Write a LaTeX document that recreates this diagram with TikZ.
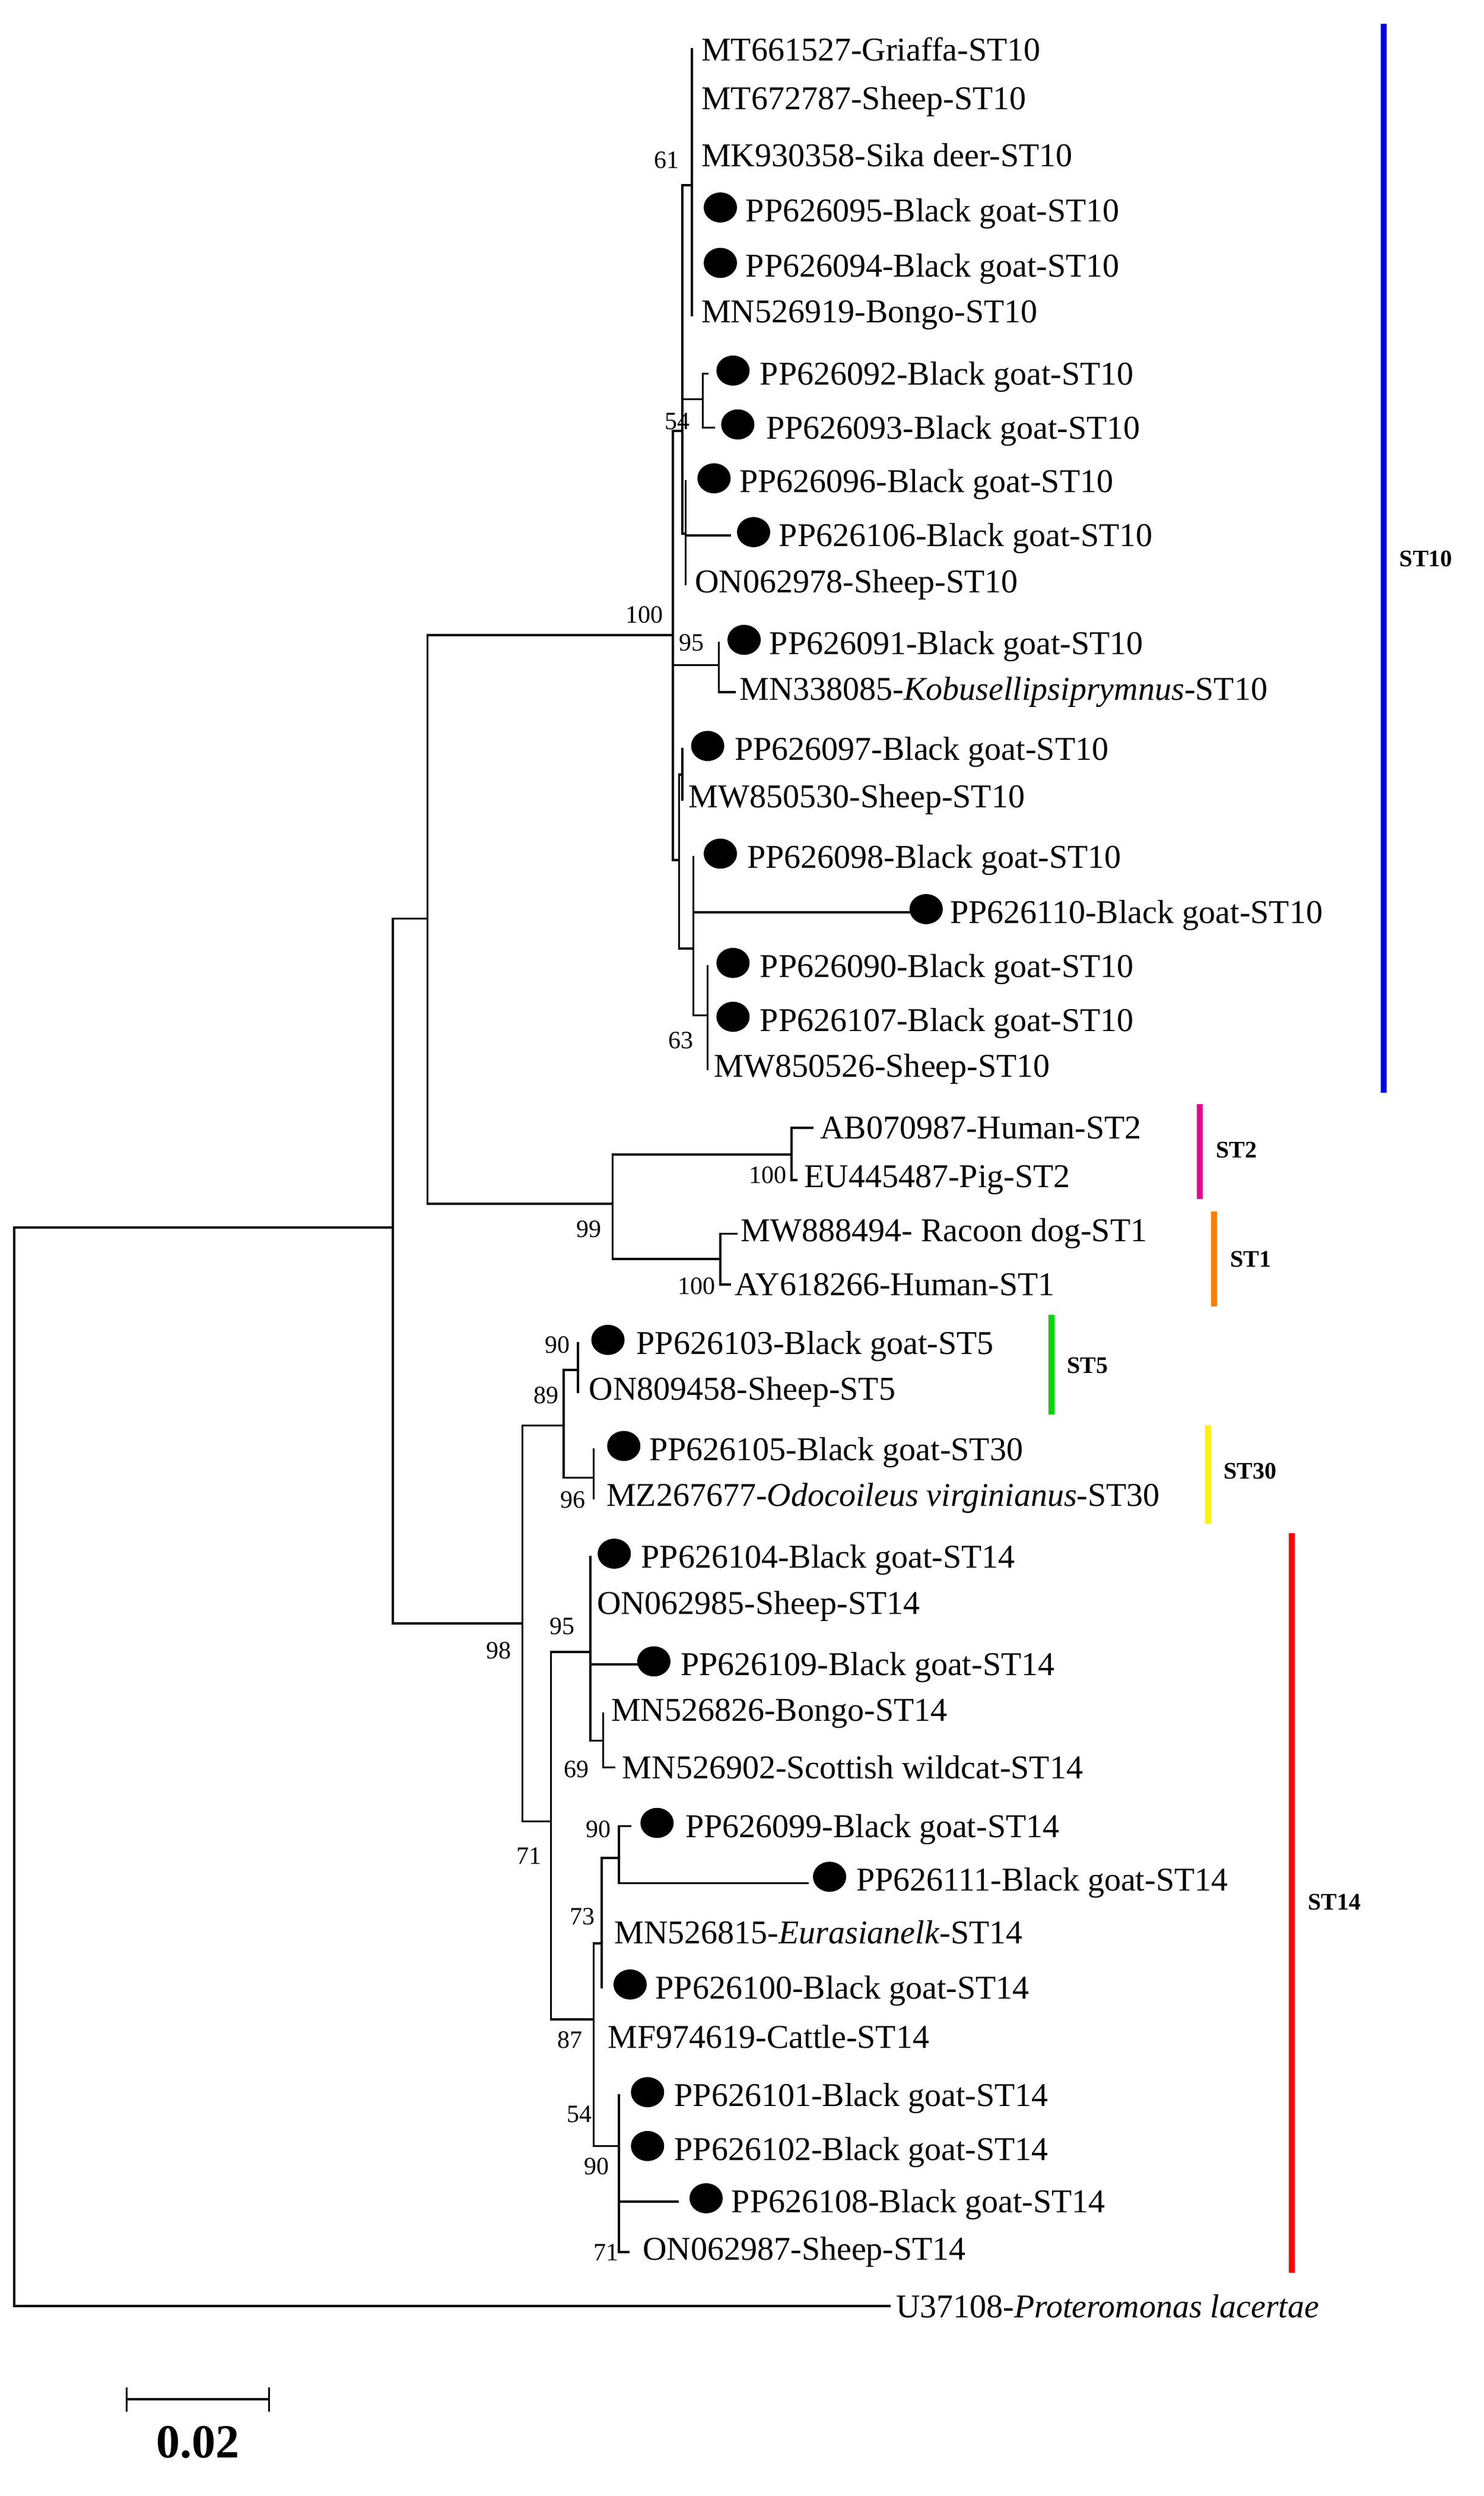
\documentclass[tikz,border=0pt]{standalone}
\usepackage{fontspec}
\setmainfont{Liberation Serif}
\begin{document}
\begin{tikzpicture}[x=2.668pt,y=-2.668pt,
  br/.style={line width=3.6pt,line cap=rect},
  lf/.style={anchor=west,inner sep=0pt,font=\fontsize{56}{60}\selectfont},
  bs/.style={inner sep=0pt,font=\fontsize{42}{46}\selectfont},
  cl/.style={anchor=west,inner sep=0pt,font=\fontsize{40}{44}\selectfont\bfseries},
  bar/.style={line width=10pt}]
\fill[white] (0,0) rectangle (937,1576);
\useasboundingbox (0,0) rectangle (937,1576);
\newcommand\lf[3]{\node[lf] at (#1,#2) {#3};}
\newcommand\dt[2]{\fill (#1,#2) ellipse [x radius=10.5, y radius=9.5];}
\newcommand\bs[3]{\node[bs] at (#1,#2) {#3};}
% root and backbone
\draw[br] (248,775)--(9,775)--(9,1456)--(562,1456);
\draw[br] (248,580)--(248,1025);
\draw[br] (248,580)--(270,580) (270,401)--(270,760);
% ST10 clade
\draw[br] (270,401)--(425,401) (425,272)--(425,543);
\draw[br] (425,272)--(431,272) (431,117)--(431,337);
\draw[br] (431,117)--(437,117) (437,31)--(437,199);
\draw[br] (431,252)--(444,252) (444,236)--(444,270) (444,236)--(447,236) (444,270)--(451,270);
\draw[br] (431,337)--(433,337) (433,304)--(433,369) (433,338)--(461,338);
\draw[br] (425,420)--(454,420) (454,406)--(454,437) (454,437)--(464,437);
\draw[br] (425,543)--(429,543) (429,489)--(429,599) (429,489)--(431,489) (431,473)--(431,505);
\draw[br] (429,599)--(438,599) (438,541)--(438,641) (438,576)--(582,576);
\draw[br] (438,641)--(447,641) (447,610)--(447,675);
\lf{443}{31}{MT661527-Griaffa-ST10}
\lf{443}{64}{MT672787-Sheep-ST10}
\lf{443}{98}{MK930358-Sika deer-ST10}
\dt{455}{131}\lf{471}{135}{PP626095-Black goat-ST10}
\dt{455}{166}\lf{471}{170}{PP626094-Black goat-ST10}
\lf{443}{199}{MN526919-Bongo-ST10}
\dt{463}{234}\lf{480}{238}{PP626092-Black goat-ST10}
\dt{466}{268}\lf{484}{272}{PP626093-Black goat-ST10}
\dt{451}{302}\lf{467}{306}{PP626096-Black goat-ST10}
\dt{476}{336}\lf{492}{340}{PP626106-Black goat-ST10}
\lf{439}{369}{ON062978-Sheep-ST10}
\dt{470}{404}\lf{486}{408}{PP626091-Black goat-ST10}
\lf{467}{437}{MN338085-\textit{Kobusellipsiprymnus}-ST10}
\dt{447}{471}\lf{464}{475}{PP626097-Black goat-ST10}
\lf{435}{505}{MW850530-Sheep-ST10}
\dt{455}{539}\lf{472}{543}{PP626098-Black goat-ST10}
\dt{585}{574}\lf{600}{578}{PP626110-Black goat-ST10}
\dt{463}{608}\lf{480}{612}{PP626090-Black goat-ST10}
\dt{463}{642}\lf{480}{646}{PP626107-Black goat-ST10}
\lf{451}{675}{MW850526-Sheep-ST10}
\bs{407}{388}{100}\bs{421}{101}{61}\bs{428}{266}{54}\bs{437}{406}{95}\bs{430}{657}{63}
% ST2 / ST1
\draw[br] (270,760)--(387,760) (387,729)--(387,795);
\draw[br] (387,729)--(500,729) (500,712)--(500,745) (500,712)--(513,712) (500,745)--(503,745);
\draw[br] (387,795)--(455,795) (455,779)--(455,811) (455,779)--(465,779) (455,811)--(461,811);
\lf{518}{712}{AB070987-Human-ST2}
\lf{508}{745}{EU445487-Pig-ST2}
\lf{468}{779}{MW888494- Racoon dog-ST1}
\lf{464}{811}{AY618266-Human-ST1}
\bs{485}{742}{100}\bs{372}{776}{99}\bs{440}{812}{100}
% ST5 / ST30 / ST14
\draw[br] (248,1025)--(330,1025) (330,900)--(330,1150);
\draw[br] (330,900)--(356,900) (356,865)--(356,933) (356,865)--(365,865) (365,848)--(365,879);
\draw[br] (356,933)--(375,933) (375,915)--(375,946);
\draw[br] (330,1150)--(348,1150) (348,1043)--(348,1275);
\draw[br] (348,1043)--(373,1043) (373,983)--(373,1099) (373,1051)--(403,1051);
\draw[br] (373,1099)--(381,1099) (381,1082)--(381,1116) (381,1116)--(388,1116);
\draw[br] (348,1275)--(375,1275) (375,1227)--(375,1355);
\draw[br] (375,1227)--(380,1227) (380,1173)--(380,1255);
\draw[br] (380,1173)--(391,1173) (391,1153)--(391,1189) (391,1153)--(398,1153) (391,1189)--(510,1189);
\draw[br] (375,1355)--(391,1355) (391,1323)--(391,1422) (391,1390)--(428,1390) (391,1422)--(397,1422);
\dt{384}{846}\lf{402}{850}{PP626103-Black goat-ST5}
\lf{372}{879}{ON809458-Sheep-ST5}
\dt{394}{913}\lf{410}{917}{PP626105-Black goat-ST30}
\lf{383}{946}{MZ267677-\textit{Odocoileus virginianus}-ST30}
\dt{388}{981}\lf{405}{985}{PP626104-Black goat-ST14}
\lf{377}{1014}{ON062985-Sheep-ST14}
\dt{413}{1049}\lf{430}{1053}{PP626109-Black goat-ST14}
\lf{386}{1082}{MN526826-Bongo-ST14}
\lf{393}{1116}{MN526902-Scottish wildcat-ST14}
\dt{415}{1151}\lf{433}{1155}{PP626099-Black goat-ST14}
\dt{524}{1185}\lf{541}{1189}{PP626111-Black goat-ST14}
\lf{388}{1220}{MN526815-\textit{Eurasianelk}-ST14}
\dt{398}{1253}\lf{414}{1257}{PP626100-Black goat-ST14}
\lf{384}{1286}{MF974619-Cattle-ST14}
\dt{409}{1321}\lf{426}{1325}{PP626101-Black goat-ST14}
\dt{409}{1355}\lf{426}{1359}{PP626102-Black goat-ST14}
\dt{446}{1388}\lf{462}{1392}{PP626108-Black goat-ST14}
\lf{406}{1422}{ON062987-Sheep-ST14}
\lf{566}{1456}{U37108-\textit{Proteromonas lacertae}}
\bs{352}{849}{90}\bs{345}{881}{89}\bs{362}{947}{96}\bs{315}{1042}{98}
\bs{355}{1027}{95}\bs{364}{1117}{69}\bs{334}{1172}{71}\bs{378}{1155}{90}
\bs{368}{1210}{73}\bs{360}{1288}{87}\bs{366}{1335}{54}\bs{377}{1368}{90}\bs{383}{1422}{71}
% clade bars
\draw[bar,blue] (874,15)--(874,690); \node[cl] at (884,353) {ST10};
\draw[bar,magenta] (758,697)--(758,757); \node[cl] at (768,726) {ST2};
\draw[bar,orange] (767,765)--(767,825); \node[cl] at (777,795) {ST1};
\draw[bar,green!85!black] (664,830)--(664,893); \node[cl] at (674,862) {ST5};
\draw[bar,yellow] (763,900)--(763,962); \node[cl] at (773,929) {ST30};
\draw[bar,red] (816,968)--(816,1435); \node[cl] at (826,1201) {ST14};
% scale bar
\draw[br] (80,1508)--(80,1522) (80,1515)--(170,1515) (170,1508)--(170,1522);
\node[inner sep=0pt,font=\fontsize{80}{84}\selectfont\bfseries] at (125,1542) {0.02};
\end{tikzpicture}
\end{document}
